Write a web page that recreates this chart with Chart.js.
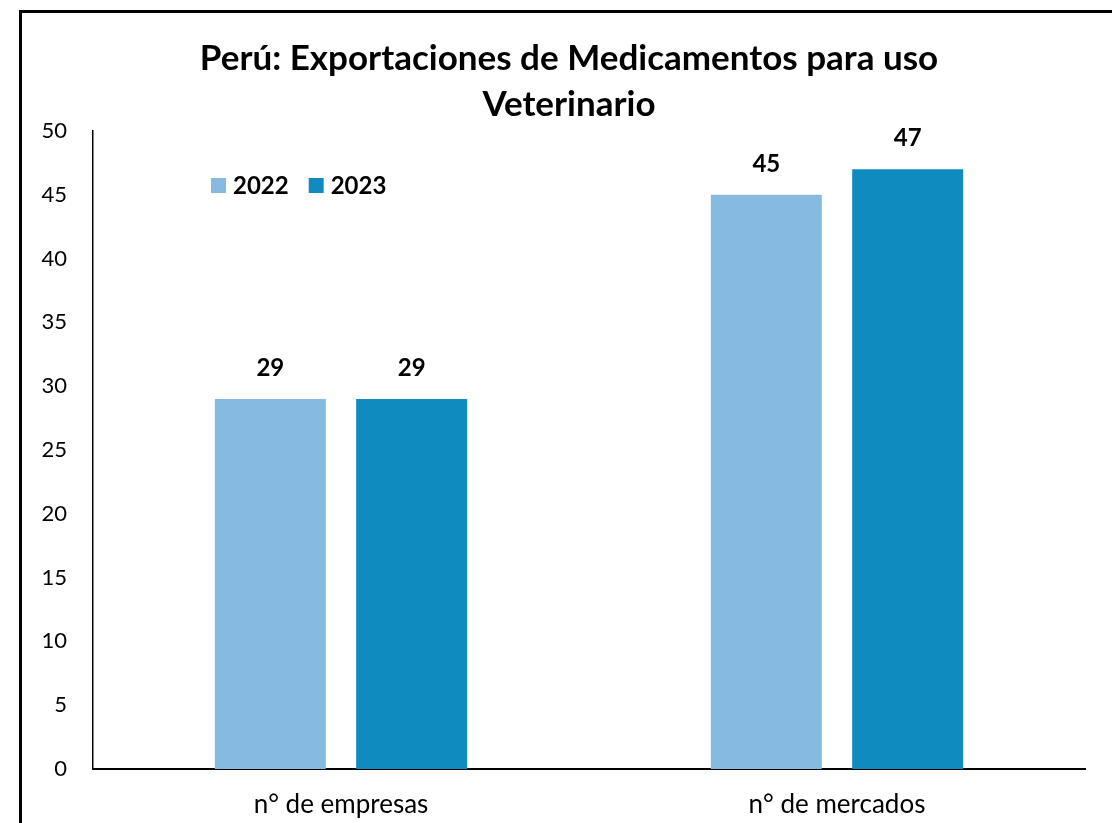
<!DOCTYPE html>
<html>
<head>
<meta charset="utf-8">
<script src="https://cdn.jsdelivr.net/npm/chart.js@4.4.0/dist/chart.umd.min.js"></script>
<style>
  html, body { margin: 0; padding: 0; background: #fff; overflow: hidden; }
  #frame {
    position: absolute; left: 19px; top: 10px;
    width: 1094px; height: 820px;
    border: 3px solid #000;
  }
  canvas { display: block; }
</style>
</head>
<body>
<div id="frame"><canvas id="chart" width="1094" height="820"></canvas></div>
<script>
// data
var categories = ['n° de empresas', 'n° de mercados'];
var seriesNames = ['2022', '2023'];
var values2022 = [29, 45];
var values2023 = [29, 47];
var seriesColors = ['#86BAE0', '#0F8BBF'];
var titleLines = ['Perú: Exportaciones de Medicamentos para uso', 'Veterinario'];

var fontFamily = 'Lato, "Liberation Sans", sans-serif';

// title centred on the whole frame, not on the plot
var frameTitle = {
  id: 'frameTitle',
  afterDraw: function(chart) {
    var ctx = chart.ctx;
    ctx.save();
    ctx.font = 'bold 35px ' + fontFamily;
    ctx.fillStyle = '#000';
    ctx.textAlign = 'center';
    ctx.textBaseline = 'middle';
    titleLines.forEach(function(line, i) {
      ctx.fillText(line, chart.width / 2, 46 + i * 46);
    });
    ctx.restore();
  }
};

// numbers above each bar
var barLabels = {
  id: 'barLabels',
  afterDatasetsDraw: function(chart) {
    var ctx = chart.ctx;
    ctx.save();
    ctx.font = 'bold 24px ' + fontFamily;
    ctx.fillStyle = '#000';
    ctx.textAlign = 'center';
    ctx.textBaseline = 'middle';
    chart.data.datasets.forEach(function(ds, i) {
      chart.getDatasetMeta(i).data.forEach(function(bar, j) {
        ctx.fillText(ds.data[j], bar.x, bar.y - 31);
      });
    });
    ctx.restore();
  }
};

// legend drawn inside the plot, top left
var innerLegend = {
  id: 'innerLegend',
  afterDraw: function(chart) {
    var ctx = chart.ctx;
    var x = 189, y = 173;
    ctx.save();
    ctx.font = 'bold 24px ' + fontFamily;
    ctx.textBaseline = 'middle';
    ctx.textAlign = 'left';
    chart.data.datasets.forEach(function(ds) {
      ctx.fillStyle = ds.backgroundColor;
      ctx.fillRect(x, y - 8, 15, 15);
      ctx.fillStyle = '#000';
      ctx.fillText(ds.label, x + 22, y);
      x += 22 + ctx.measureText(ds.label).width + 20;
    });
    ctx.restore();
  }
};

new Chart(document.getElementById('chart'), {
  type: 'bar',
  data: {
    labels: categories,
    datasets: [
      { label: seriesNames[0], data: values2022, backgroundColor: seriesColors[0] },
      { label: seriesNames[1], data: values2023, backgroundColor: seriesColors[1] }
    ]
  },
  options: {
    responsive: false,
    devicePixelRatio: 1,
    animation: false,
    categoryPercentage: 0.57,
    barPercentage: 0.785,
    layout: { padding: { left: 0, right: 31, top: 118, bottom: 0 } },
    plugins: {
      legend: { display: false },
      tooltip: { enabled: false },
      title: { display: false }
    },
    scales: {
      x: {
        grid: { display: false, drawTicks: false },
        border: { display: true, color: '#000', width: 2 },
        ticks: { color: '#000', padding: 20, font: { family: fontFamily, size: 26 } },
        afterFit: function(scale) { scale.height = 64; }
      },
      y: {
        min: 0,
        max: 50,
        grid: { display: false, drawTicks: false },
        border: { display: true, color: '#000', width: 1.5 },
        ticks: { stepSize: 5, color: '#000', padding: 26, font: { family: fontFamily, size: 22 } },
        afterFit: function(scale) { scale.width = 71; }
      }
    }
  },
  plugins: [frameTitle, barLabels, innerLegend]
});
</script>
</body>
</html>
